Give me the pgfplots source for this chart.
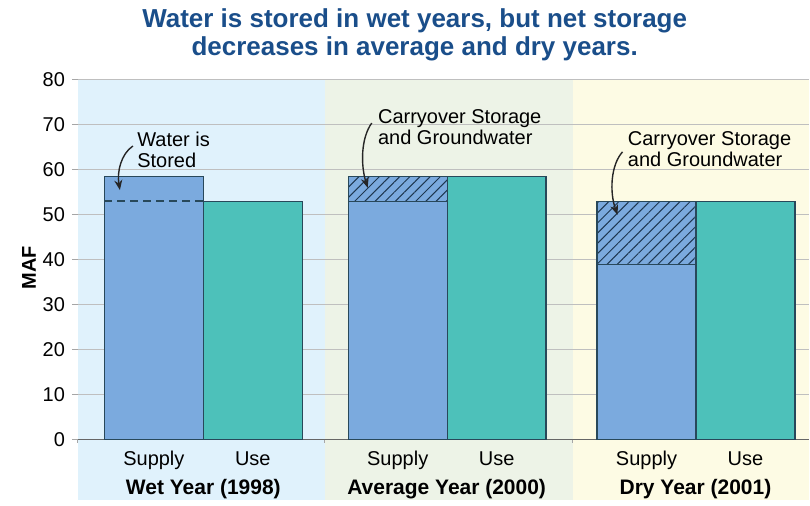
\documentclass[border=0pt]{standalone}
\usepackage{pgfplots}
\pgfplotsset{compat=1.18}
\usepackage{fontspec}
\setmainfont{Liberation Sans}
\usetikzlibrary{patterns.meta,arrows.meta}
\definecolor{supply}{RGB}{123,170,222}
\definecolor{use}{RGB}{77,193,186}
\definecolor{outline}{RGB}{40,72,90}
\definecolor{hatch}{RGB}{30,55,80}
\definecolor{titleblue}{RGB}{26,78,138}
\definecolor{wetbg}{RGB}{224,242,252}
\definecolor{avgbg}{RGB}{237,243,231}
\definecolor{drybg}{RGB}{253,251,228}
\begin{document}
\begin{tikzpicture}
\begin{axis}[
  set layers,
  scale only axis, width=366pt, height=180pt,
  xmin=78, xmax=810, ymin=0, ymax=80,
  clip=false,
  axis x line=bottom, axis y line=left,
  x axis line style={-, draw=gray!80!black, line width=0.6pt},
  y axis line style={draw=none},
  ytick={0,10,...,80},
  ymajorgrids, grid style={gray!50, line width=0.5pt},
  xtick={154,253,398,497,647,746},
  xticklabels={Supply,Use,Supply,Use,Supply,Use},
  x tick style={draw=none},
  y tick style={gray!70, line width=0.5pt},
  tick align=outside, major tick length=3pt,
  ticklabel style={font=\fontsize{10}{12}\selectfont},
  xticklabel style={anchor=north, text height=7.4pt, text depth=2.1pt, yshift=1pt},
  /pgf/number format/assume math mode=true,
]
\begin{pgfonlayer}{axis background}
\fill[wetbg] (axis cs:78,-13.34) rectangle (axis cs:325,80);
\fill[avgbg] (axis cs:325,-13.34) rectangle (axis cs:573,80);
\fill[drybg] (axis cs:573,-13.34) rectangle (axis cs:810,80);
\end{pgfonlayer}
\path (axis cs:0,97.77) rectangle (axis cs:810,-13.33);
% full supply
\addplot[ybar, bar width=99, bar shift=0pt, fill=supply, draw=outline, line width=0.6pt]
  coordinates {(154,58.5) (398,58.5) (647,53)};
% hatched storage part
\addplot[ybar, bar width=99, bar shift=0pt, draw=outline, line width=0.6pt,
  pattern={Lines[angle=45,distance=3.6pt,line width=0.5pt]}, pattern color=hatch]
  coordinates {(398,58.5) (647,53)};
% supply from inflow
\addplot[ybar, bar width=99, bar shift=0pt, fill=supply, draw=outline, line width=0.6pt]
  coordinates {(398,53) (647,39)};
% use
\addplot[ybar, bar width=99, bar shift=0pt, fill=use, draw=outline, line width=0.6pt]
  coordinates {(253,53) (497,58.5) (746,53)};
% dashed use level in wet year
\addplot[outline, line width=0.8pt, dash pattern=on 4pt off 2.5pt]
  coordinates {(104.5,53) (203.5,53)};
% boundary ticks
\draw[gray!70, line width=0.5pt] (axis cs:78,0) -- (axis cs:78,-0.67);
\draw[gray!70, line width=0.5pt] (axis cs:325,0) -- (axis cs:325,-0.67);
\draw[gray!70, line width=0.5pt] (axis cs:573,0) -- (axis cs:573,-0.67);
% annotations
\node[anchor=west, align=left, font=\fontsize{10}{10.5}\selectfont, inner sep=0pt] at (axis cs:137,64.4) {Water is\\Stored};
\draw[-{Stealth[length=5pt,width=4pt]}, line width=0.7pt, black!85]
  (axis cs:133,65.3) .. controls (axis cs:121,63.5) and (axis cs:117,59.5) .. (axis cs:120,55.5);
\node[anchor=west, align=left, font=\fontsize{10}{10.5}\selectfont, inner sep=0pt] at (axis cs:378,69.6) {Carryover Storage\\and Groundwater};
\draw[-{Stealth[length=5pt,width=4pt]}, line width=0.7pt, black!85]
  (axis cs:372,70.4) .. controls (axis cs:361,67) and (axis cs:361,61) .. (axis cs:368,56);
\node[anchor=west, align=left, font=\fontsize{10}{10.5}\selectfont, inner sep=0pt] at (axis cs:628,64.7) {Carryover Storage\\and Groundwater};
\draw[-{Stealth[length=5pt,width=4pt]}, line width=0.7pt, black!85]
  (axis cs:623,64) .. controls (axis cs:611,61) and (axis cs:610,55) .. (axis cs:618,50);
% group labels
\node[font=\bfseries\fontsize{10.5}{12}\selectfont] at (axis cs:203.5,-10.9) {Wet Year (1998)};
\node[font=\bfseries\fontsize{10.5}{12}\selectfont] at (axis cs:447,-10.9) {Average Year (2000)};
\node[font=\bfseries\fontsize{10.5}{12}\selectfont] at (axis cs:696,-10.9) {Dry Year (2001)};
% y label
\node[rotate=90, font=\bfseries\fontsize{10}{12}\selectfont] at (axis cs:29,38.2) {MAF};
% title
\node[align=center, font=\bfseries\fontsize{13}{14}\selectfont, text=titleblue] at (axis cs:415,90.1)
  {Water is stored in wet years, but net storage\\decreases in average and dry years.};
\end{axis}
\end{tikzpicture}
\end{document}
